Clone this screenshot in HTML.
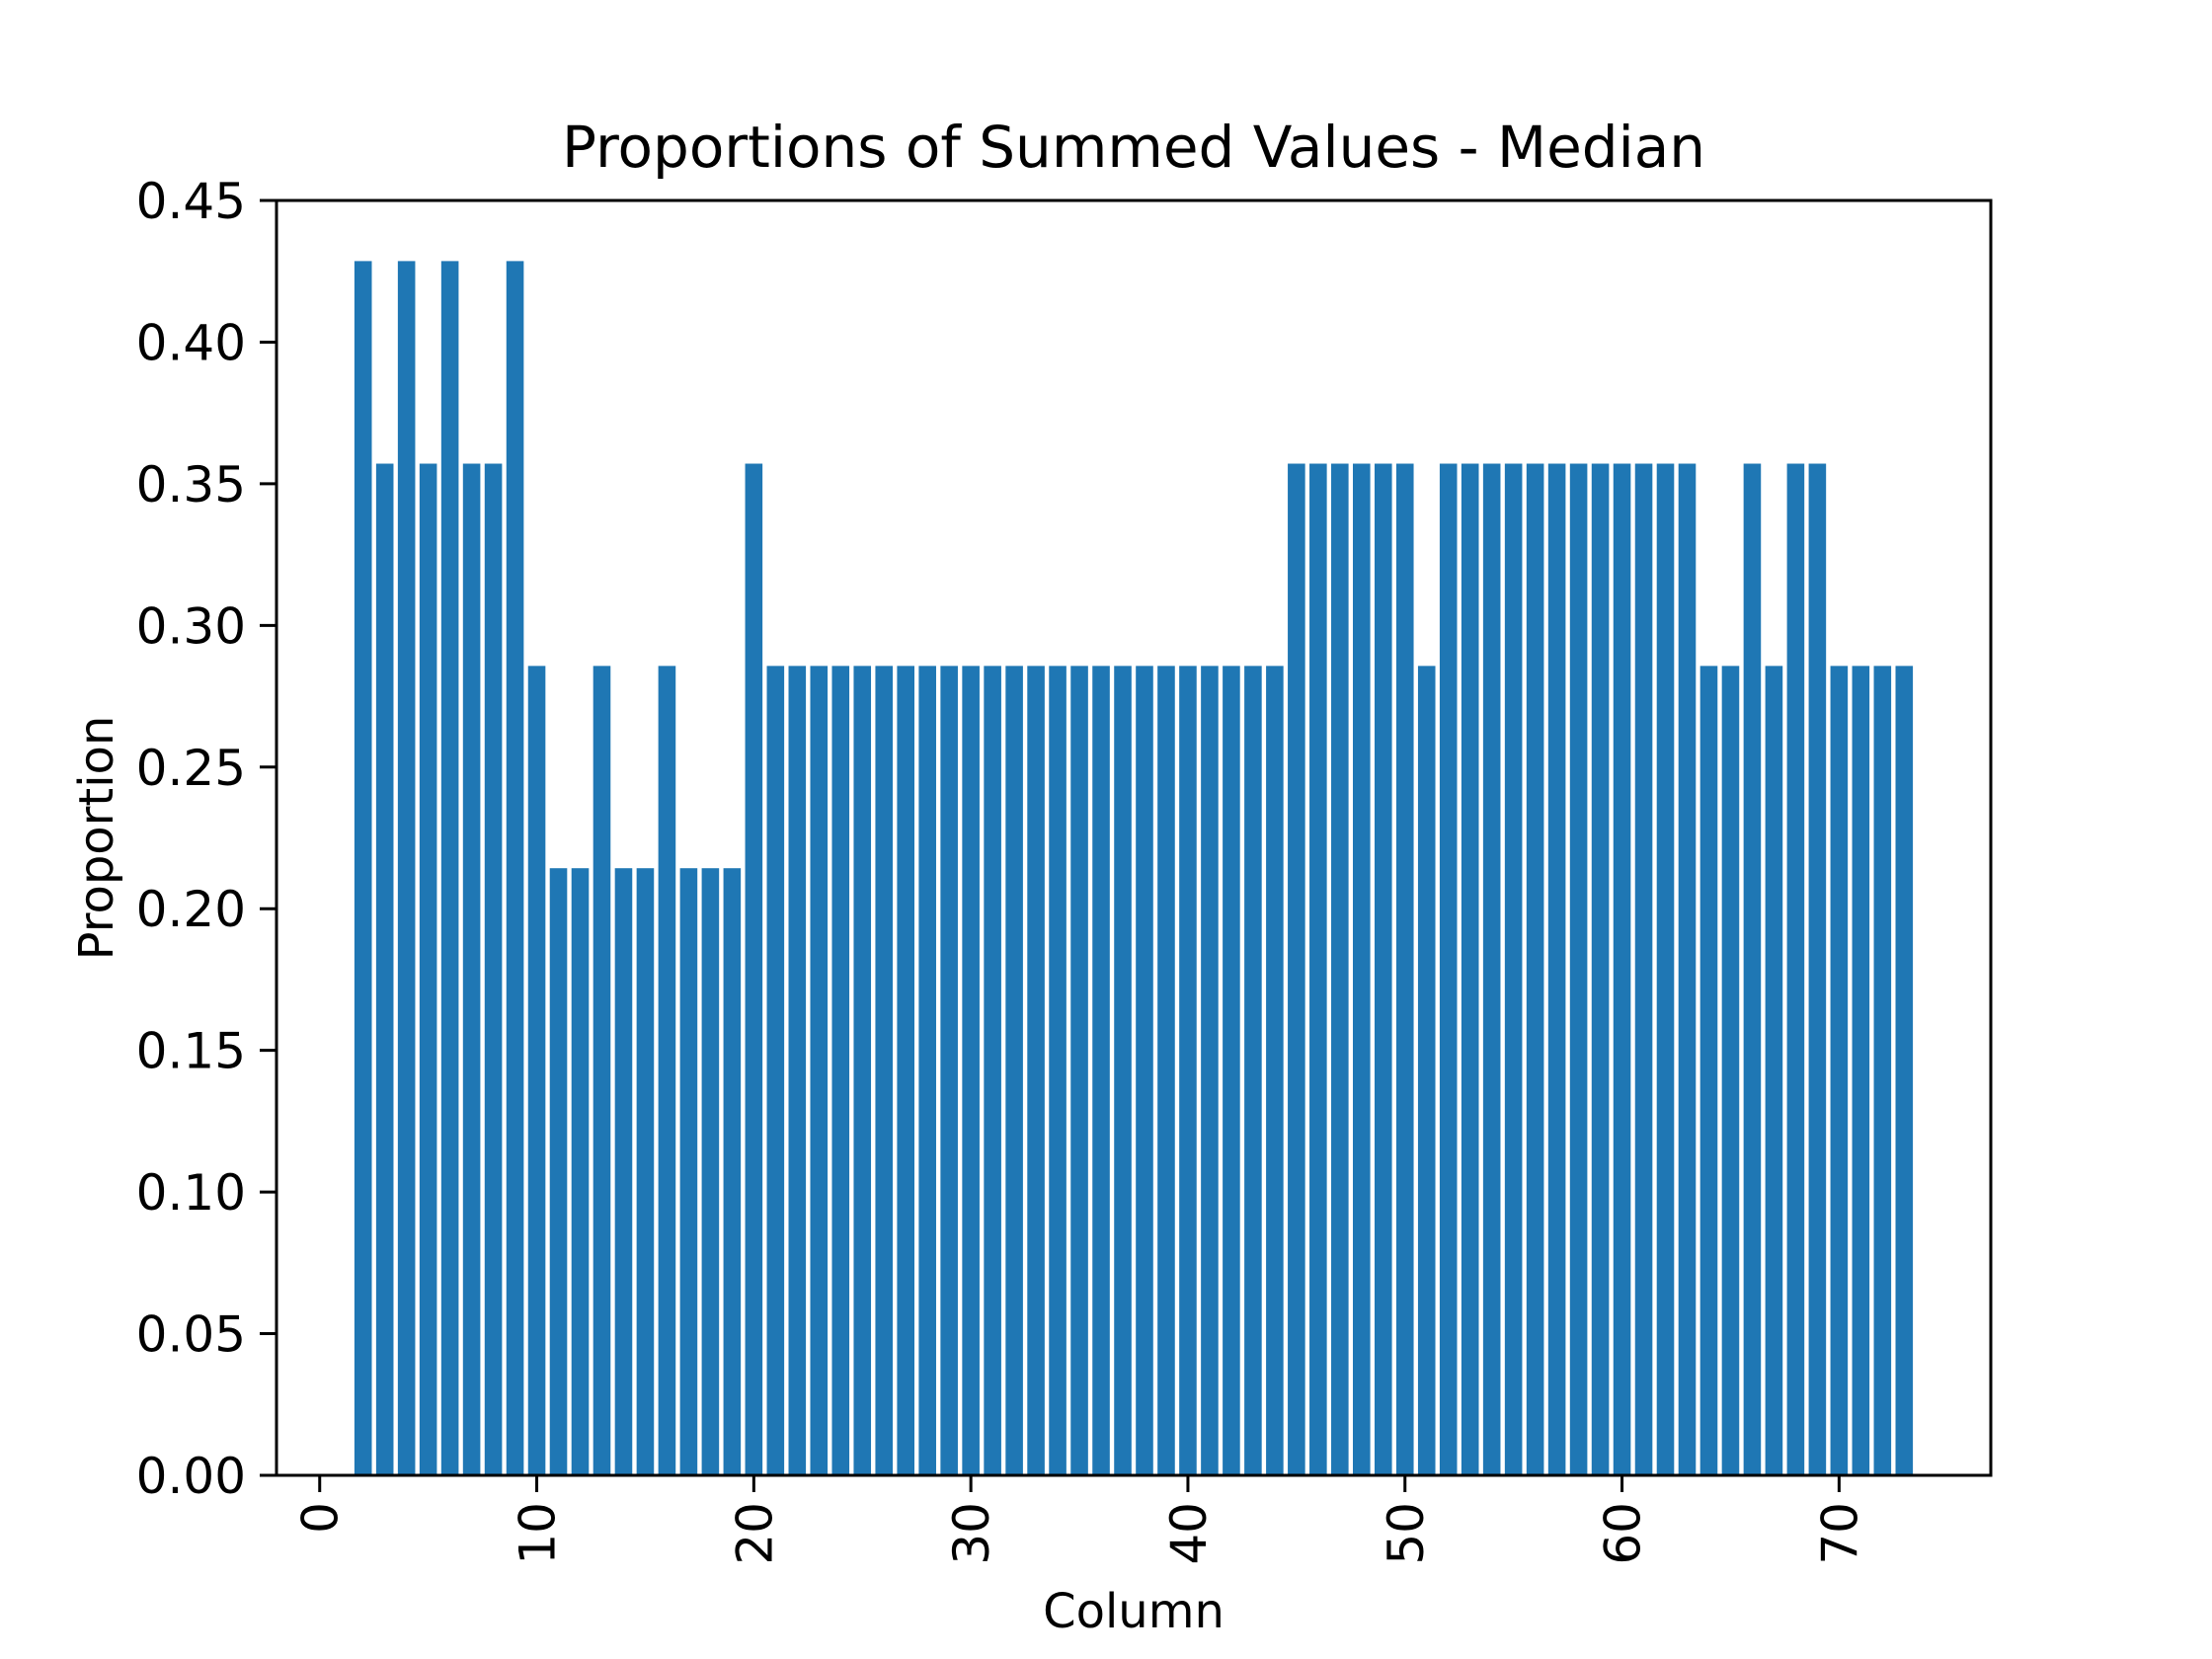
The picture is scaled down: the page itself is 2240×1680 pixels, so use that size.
<!DOCTYPE html>
<html><head><meta charset="utf-8"><style>body{margin:0;background:#fff}svg{display:block}text{font-family:"DejaVu Sans","Liberation Sans",sans-serif;fill:#000}</style></head>
<body>
<svg id="chart" width="2240" height="1680"></svg>
<script>
const categories=[];for(let i=2;i<=73;i++)categories.push(i);
const H=0.4286,M=0.3571,L=0.2857,S=0.2143;
const values=[H,M,H,M,H,M,M,H,L,S,S,L,S,S,L,S,S,S,M,
L,L,L,L,L,L,L,L,L,L,L,L,L,L,L,L,L,L,L,L,L,L,L,L,
M,M,M,M,M,M,L,M,M,M,M,M,M,M,M,M,M,M,M,L,L,M,L,M,M,L,L,L,L];
const yTicks=[0,0.05,0.10,0.15,0.20,0.25,0.30,0.35,0.40,0.45];
const xTicks=[0,10,20,30,40,50,60,70];
const NS='http://www.w3.org/2000/svg';
const svg=document.getElementById('chart');
const X0=280,X1=2016,Y0=1494,Y1=203;
const xmin=-1.99,xmax=76.99,ymax=0.45;
const xs=v=>X0+(v-xmin)/(xmax-xmin)*(X1-X0);
const ys=v=>Y0-v/ymax*(Y0-Y1);
function mk(t,a,txt){const e=document.createElementNS(NS,t);for(const k in a)e.setAttribute(k,a[k]);if(txt!==undefined)e.textContent=txt;svg.appendChild(e);return e;}
categories.forEach((c,i)=>{const x=xs(c-0.4),w=xs(c+0.4)-x;
const r=mk('rect',{x:x,y:ys(values[i]),width:w,height:Y0-ys(values[i]),fill:'#1f77b4'});

});
const f=mk('rect',{x:X0,y:Y1,width:X1-X0,height:Y0-Y1,fill:'none',stroke:'#000','stroke-width':3});


yTicks.forEach(v=>{const y=ys(v);mk('line',{x1:X0,x2:X0-17,y1:y,y2:y,stroke:'#000','stroke-width':3});
const t=mk('text',{x:X0-31,y:y+18,'text-anchor':'end','font-size':50},v.toFixed(2));

});
xTicks.forEach(v=>{const x=xs(v);mk('line',{x1:x,x2:x,y1:Y0,y2:Y0+17,stroke:'#000','stroke-width':3});
const t=mk('text',{x:0,y:0,'text-anchor':'end','font-size':50,transform:`translate(${x+18},${Y0+27}) rotate(-90)`},String(v));

});
const tt=mk('text',{x:(X0+X1)/2,y:169,'text-anchor':'middle','font-size':58},'Proportions of Summed Values - Median');


const xl=mk('text',{x:(X0+X1)/2,y:1648,'text-anchor':'middle','font-size':48},'Column');


const yl=mk('text',{x:0,y:0,'text-anchor':'middle','font-size':48,transform:`translate(114,${(Y0+Y1)/2}) rotate(-90)`},'Proportion');


</script>
</body></html>
